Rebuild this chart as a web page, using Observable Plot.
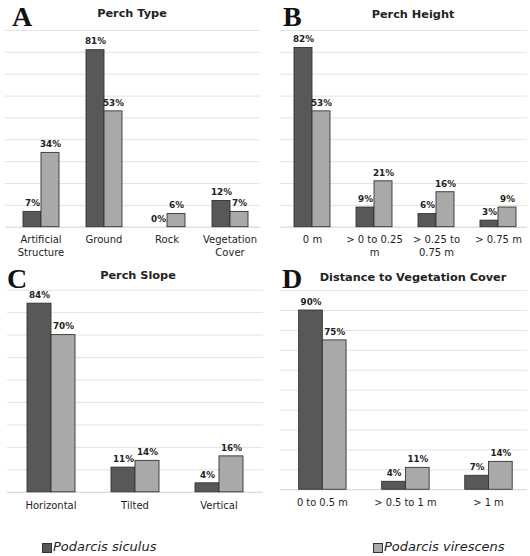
<!DOCTYPE html>
<html><head><meta charset="utf-8">
<script src="https://cdn.jsdelivr.net/npm/d3@7"></script>
<script src="https://cdn.jsdelivr.net/npm/@observablehq/plot@0.6"></script>
<style>
html,body{margin:0;padding:0;background:#fff;overflow:hidden}
#root{position:relative;width:530px;height:556px;overflow:hidden;font-family:"DejaVu Sans",sans-serif;background:#fff}
.layer{position:absolute}
.layer svg{display:block}
.letter{position:absolute;font-family:"Liberation Serif",serif;font-weight:bold;font-size:28px;line-height:1;color:#111}
.title{position:absolute;font-weight:bold;font-size:11.3px;line-height:12px;color:#222;transform:translateX(-50%);white-space:nowrap}
.legend{position:absolute;font-style:italic;font-size:13px;line-height:14px;color:#222;white-space:nowrap}
.sw{position:absolute;width:8px;height:8px;border:1px solid #333}
</style>
</head><body>
<div id="root"></div>
<script>
// ---- data ----
const seriesNames = ["Podarcis siculus", "Podarcis virescens"];
const seriesColors = ["#585858", "#a9a9a9"];

const typeTitle = "Perch Type";
const typeCats = ["Artificial\nStructure", "Ground", "Rock", "Vegetation\nCover"];
const typeSiculus = [7, 81, 0, 12];
const typeVirescens = [34, 53, 6, 7];

const heightTitle = "Perch Height";
const heightCats = ["0 m", "> 0 to 0.25\nm", "> 0.25 to\n0.75 m", "> 0.75 m"];
const heightSiculus = [82, 9, 6, 3];
const heightVirescens = [53, 21, 16, 9];

const slopeTitle = "Perch Slope";
const slopeCats = ["Horizontal", "Tilted", "Vertical"];
const slopeSiculus = [84, 11, 4];
const slopeVirescens = [70, 14, 16];

const distTitle = "Distance to Vegetation Cover";
const distCats = ["0 to 0.5 m", "> 0.5 to 1 m", "> 1 m"];
const distSiculus = [90, 4, 7];
const distVirescens = [75, 11, 14];

const ticks90 = [0, 10, 20, 30, 40, 50, 60, 70, 80, 90];
const ticks100 = [0, 10, 20, 30, 40, 50, 60, 70, 80, 90, 100];

// ---- layout ----
const root = document.getElementById("root");

function add(el, css) { Object.assign(el.style, css); root.appendChild(el); return el; }

function panel(o) {
  const rows = o.cats.flatMap((c, i) => [
    {cat: c, series: seriesNames[0], v: o.s1[i]},
    {cat: c, series: seriesNames[1], v: o.s2[i]}
  ]);
  const common = {
    width: o.width, height: o.height,
    marginTop: o.mt, marginBottom: o.mb,
    style: {background: "transparent", fontFamily: "DejaVu Sans", overflow: "visible"}
  };
  const grid = Plot.plot({
    ...common,
    marginLeft: o.gml, marginRight: o.gmr,
    y: {domain: [0, o.ymax], axis: null},
    marks: [
      Plot.ruleY(o.ticks.filter(t => t > 0), {stroke: "#e3e3e3", strokeWidth: 1}),
      Plot.ruleY([0], {stroke: "#d2d2d2", strokeWidth: 1})
    ]
  });
  const bars = Plot.plot({
    ...common,
    marginLeft: o.bml, marginRight: o.bmr,
    fx: {domain: o.cats, paddingInner: 0.42, paddingOuter: 0.21, axis: null, label: null},
    x: {domain: seriesNames, padding: 0, axis: null},
    y: {domain: [0, o.ymax], axis: null},
    color: {domain: seriesNames, range: seriesColors},
    marks: [
      Plot.barY(rows, {fx: "cat", x: "series", y: "v", fill: "series", stroke: "#333", strokeWidth: 0.9}),
      Plot.text(rows, {fx: "cat", x: "series", y: "v", text: d => d.v + "%", dy: -8.5, lineAnchor: "middle",
        fontWeight: "bold", fontSize: 8.8, fill: "#222"}),
      Plot.text(o.cats, {fx: d => d, text: d => d, frameAnchor: "bottom", lineAnchor: "top", dy: 7,
        fontSize: 10, lineHeight: 1.3, fill: "#1e1e1e"})
    ]
  });
  const g = add(document.createElement("div"), {left: o.left + "px", top: o.top + "px"});
  g.className = "layer"; g.appendChild(grid);
  const b = add(document.createElement("div"), {left: o.left + "px", top: o.top + "px"});
  b.className = "layer"; b.appendChild(bars);

  const t = add(document.createElement("div"), {left: o.tx + "px", top: o.ty + "px"});
  t.className = "title"; t.textContent = o.title;
  const L = add(document.createElement("div"), {left: o.lx + "px", top: o.ly + "px"});
  L.className = "letter"; L.textContent = o.letter;
}

panel({letter: "A", title: typeTitle, cats: typeCats, s1: typeSiculus, s2: typeVirescens, ticks: ticks90, ymax: 90,
  left: 0, top: 0, width: 265, height: 265, mt: 30, mb: 38.3, gml: 5, gmr: 5, bml: 9, bmr: 4,
  tx: 132, ty: 8, lx: 12, ly: 3});
panel({letter: "B", title: heightTitle, cats: heightCats, s1: heightSiculus, s2: heightVirescens, ticks: ticks90, ymax: 90,
  left: 265, top: 0, width: 265, height: 265, mt: 30, mb: 38.3, gml: 15, gmr: 3, bml: 14, bmr: 0,
  tx: 413, ty: 9, lx: 283, ly: 2.6});
panel({letter: "C", title: slopeTitle, cats: slopeCats, s1: slopeSiculus, s2: slopeVirescens, ticks: ticks90, ymax: 90,
  left: 0, top: 265, width: 265, height: 265, mt: 24.7, mb: 38.2, gml: 7, gmr: 2, bml: 7, bmr: 3.5,
  tx: 138, ty: 270, lx: 7, ly: 264.6});
panel({letter: "D", title: distTitle, cats: distCats, s1: distSiculus, s2: distVirescens, ticks: ticks100, ymax: 100,
  left: 265, top: 265, width: 268, height: 265, mt: 25.4, mb: 38.2, gml: 15, gmr: 3, bml: 15, bmr: 0,
  tx: 413, ty: 271.5, lx: 282, ly: 264.6});

// ---- legend ----
const legendPos = [{sx: 42, tx: 53}, {sx: 373, tx: 384}];
seriesNames.forEach((name, i) => {
  const sw = add(document.createElement("div"), {left: legendPos[i].sx + "px", top: "542.5px", background: seriesColors[i]});
  sw.className = "sw";
  const t = add(document.createElement("div"), {left: legendPos[i].tx + "px", top: "539.5px"});
  t.className = "legend"; t.textContent = name;
});
</script>
</body></html>
